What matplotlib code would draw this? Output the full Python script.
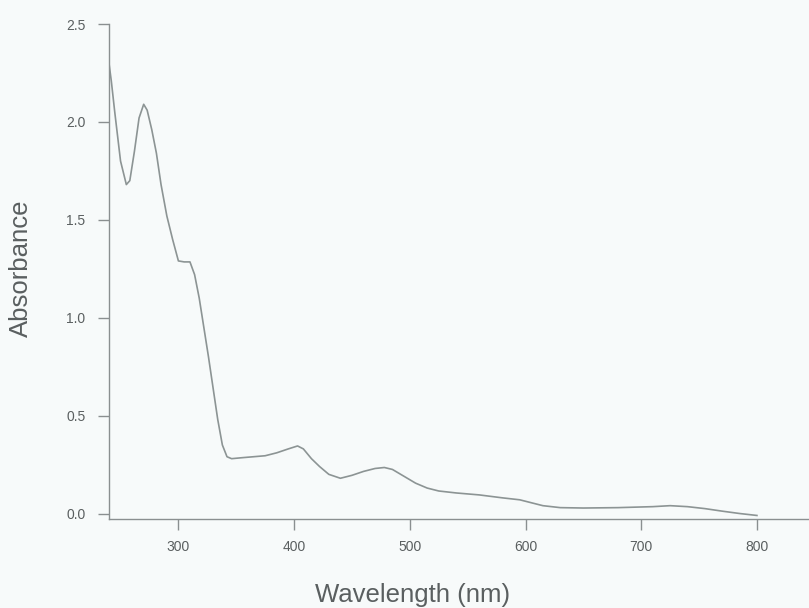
import numpy as np
from matplotlib import pyplot as plt

# absorption spectrum
wavelength = [240, 242, 245, 250, 255, 258, 262, 266, 270, 273, 277, 281, 285, 290,
              295, 300, 305, 310, 314, 318, 322, 326, 330, 334, 338, 342, 346, 355,
              365, 375, 385, 395, 403, 408, 415, 422, 430, 440, 450, 460, 470, 478,
              485, 495, 505, 515, 525, 540, 560, 580, 595, 605, 615, 630, 650, 680,
              710, 725, 740, 755, 770, 785, 800]
absorbance = [2.30, 2.21, 2.05, 1.80, 1.68, 1.70, 1.85, 2.02, 2.09, 2.06, 1.96, 1.84,
              1.68, 1.52, 1.40, 1.29, 1.285, 1.285, 1.22, 1.10, 0.95, 0.80, 0.64, 0.48,
              0.35, 0.29, 0.28, 0.285, 0.29, 0.295, 0.31, 0.33, 0.345, 0.33, 0.28, 0.24,
              0.20, 0.18, 0.195, 0.215, 0.23, 0.235, 0.225, 0.19, 0.155, 0.13, 0.115,
              0.105, 0.095, 0.08, 0.07, 0.055, 0.04, 0.03, 0.028, 0.03, 0.035, 0.04,
              0.035, 0.025, 0.012, 0.0, -0.01]
xticks = [300, 400, 500, 600, 700, 800]
yticks = [0.0, 0.5, 1.0, 1.5, 2.0, 2.5]

bg = '#f7fafa'
ink = '#5a5f60'
plt.rcParams['font.family'] = ['Liberation Sans', 'DejaVu Sans']

fig = plt.figure(figsize=(8.09, 6.08), dpi=100, facecolor=bg)
ax = fig.add_axes([0.1347, 0.1464, 0.8653, 0.8141], facecolor=bg)

ax.plot(wavelength, absorbance, color='#8c9494', linewidth=1.2)

ax.set_xlim(240, 845)
ax.set_ylim(-0.028, 2.5)
ax.set_xticks(xticks)
ax.set_yticks(yticks)
ax.set_yticklabels(['%.1f' % v for v in yticks])

for s in ['top', 'right']:
    ax.spines[s].set_visible(False)
for s in ['left', 'bottom']:
    ax.spines[s].set_color('#8a8f90')
    ax.spines[s].set_linewidth(1.0)

ax.tick_params(axis='both', colors='#8a8f90', labelcolor=ink, labelsize=10,
               length=8, width=1.0)
ax.tick_params(axis='y', pad=9)
ax.tick_params(axis='x', pad=7)

ax.set_ylabel('Absorbance', fontsize=18.5, color=ink)
ax.yaxis.set_label_coords(-0.109, 0.507)
ax.set_xlabel('Wavelength (nm)', fontsize=18.5, color=ink)
ax.xaxis.set_label_coords(0.433, -0.129)

plt.savefig('out.png', dpi=100, facecolor=bg)
